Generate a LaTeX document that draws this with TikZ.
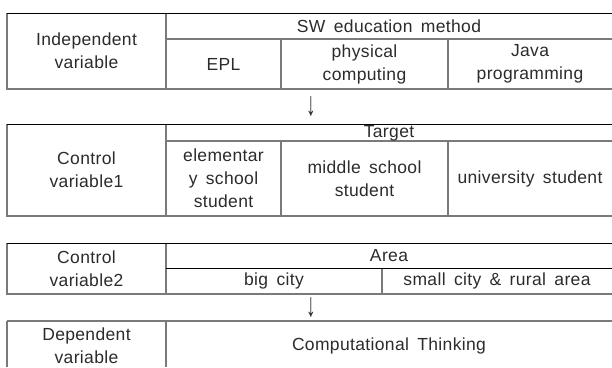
\documentclass[tikz,border=0pt]{standalone}
\usepackage{fontspec}
\usepackage{graphicx}
\setmainfont{Liberation Sans}[LetterSpace=2,WordSpace=1.6]
\definecolor{linegray}{HTML}{7A7A7A}
\definecolor{txtgray}{HTML}{2B2B2B}
\tikzset{
  topline/.style={draw=black,line width=1pt},
  gridline/.style={draw=linegray,line width=1.3pt},
  celltext/.style={align=center,inner sep=0pt,text=txtgray,font=\fontsize{17.5}{23}\selectfont},
  arrowtext/.style={inner sep=0pt,text=txtgray,font=\fontsize{16}{16}\selectfont}
}
\begin{document}
\begin{tikzpicture}[x=1pt,y=-1pt]
\useasboundingbox (0,0) rectangle (612,367);
% ---- table 1
\draw[gridline] (7,13) -- (7,89) -- (612,89);
\draw[gridline] (166,13) -- (166,89);
\draw[gridline] (166,39) -- (612,39);
\draw[gridline] (281,39) -- (281,89);
\draw[gridline] (448,39) -- (448,89);
\draw[topline] (7,13) -- (612,13);
\node[celltext] (iv) at (86.5,51) {Independent\\variable};
\node[celltext] (sw) at (389,26) {SW education method};
\node[celltext] (epl) at (223.5,64) {EPL};
\node[celltext] (pc) at (364.5,64) {physical\\computing};
\node[celltext] (java) at (530,64) {Java\\programming};
\node[arrowtext] (a1) at (311,107) {\scalebox{1.2}[2.1]{↓}};
% ---- table 2
\draw[gridline] (7,124) -- (7,216) -- (612,216);
\draw[gridline] (166,124) -- (166,216);
\draw[gridline] (166,141) -- (612,141);
\draw[gridline] (281,141) -- (281,216);
\draw[gridline] (448,141) -- (448,216);
\draw[topline] (7,124) -- (612,124);
\node[celltext] (cv1) at (86.5,170) {Control\\variable1};
\node[celltext] (tg) at (389,133.5) {Target};
\node[celltext] (el) at (223.5,178.5) {elementar\\y school\\student};
\node[celltext] (ms) at (364.5,178.5) {middle school\\student};
\node[celltext] (us) at (530,178.5) {university student};
% ---- table 3
\draw[gridline] (7,243) -- (7,294) -- (612,294);
\draw[gridline] (166,243) -- (166,294);
\draw[gridline] (382,268) -- (382,294);
\draw[topline] (166,268) -- (612,268);
\draw[topline] (7,243) -- (612,243);
\node[celltext] (cv2) at (86.5,268.5) {Control\\variable2};
\node[celltext] (ar) at (389,255.5) {Area};
\node[celltext] (bc) at (274,281) {big city};
\node[celltext] (sc) at (497,281) {small city \& rural area};
\node[arrowtext] (a2) at (311,308) {\scalebox{1.2}[2.1]{↓}};
% ---- table 4
\draw[gridline] (7,367) -- (7,321);
\draw[gridline] (166,321) -- (166,367);
\draw[gridline] (7,321) -- (612,321);
\node[celltext] (dv) at (86.5,346) {Dependent\\variable};
\node[celltext] (ct) at (389,346) {Computational Thinking};
\end{tikzpicture}
\end{document}
